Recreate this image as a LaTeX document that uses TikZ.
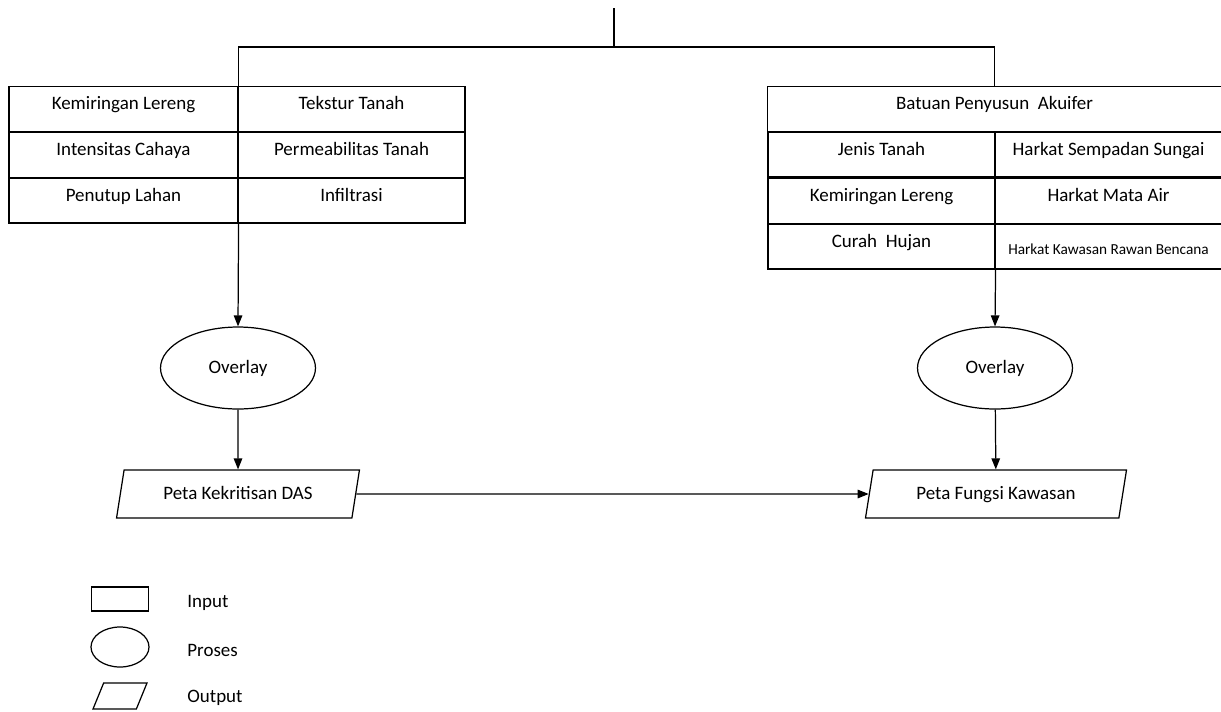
\documentclass[tikz,border=0pt]{standalone}
\usepackage{fontspec}
\setmainfont{Carlito}
\usetikzlibrary{positioning, arrows.meta, shapes.geometric}

\begin{document}
\begin{tikzpicture}[
  x=0.02cm, y=-0.02cm,
  line width=0.7pt,
  every node/.style={font=\fontsize{10.8}{12}\selectfont, inner sep=1pt},
  inbox/.style={draw, rectangle, minimum height=0.9cm, text height=1.5ex, text depth=1.3ex},
  procnode/.style={draw, ellipse, minimum width=3.1cm, minimum height=1.64cm},
  outnode/.style={draw, trapezium, trapezium left angle=76, trapezium right angle=104,
    trapezium stretches=true, minimum width=4.9cm, minimum height=0.96cm,
    text height=1.6ex, text depth=0.4ex},
  arr/.style={->, >={Triangle[length=2.2mm, width=1.7mm]}}
]
\useasboundingbox (0,0) rectangle (1221,711);

% Left inputs
\node[inbox, minimum width=4.58cm] (kl1) at (123.5,109) {Kemiringan Lereng};
\node[inbox, minimum width=4.54cm] (tt)  at (351.5,109) {Tekstur Tanah};
\node[inbox, minimum width=4.58cm] (ic)  at (123.5,155) {Intensitas Cahaya};
\node[inbox, minimum width=4.54cm] (pt)  at (351.5,155) {Permeabilitas Tanah};
\node[inbox, minimum width=4.58cm] (pl)  at (123.5,200.5) {Penutup Lahan};
\node[inbox, minimum width=4.54cm] (inf) at (351.5,200.5) {Infiltrasi};

% Right inputs
\node[inbox, minimum width=9.08cm] (bpa) at (994.5,109) {Batuan Penyusun\ \ Akuifer};
\node[inbox, minimum width=4.54cm] (jt)  at (881.5,154.5) {Jenis Tanah};
\node[inbox, minimum width=4.54cm] (hss) at (1108.5,154.5) {Harkat Sempadan Sungai};
\node[inbox, minimum width=4.54cm] (kl2) at (881.5,201) {Kemiringan Lereng};
\node[inbox, minimum width=4.54cm] (hma) at (1108.5,201) {Harkat Mata Air};
\node[inbox, minimum width=4.54cm] (ch)  at (881.5,246.5) {Curah\ \ Hujan};
\node[inbox, minimum width=4.54cm, font=\fontsize{8.7}{10}\selectfont,
  text height=2.2ex, text depth=0.3ex] (hkr) at (1108.5,246.5) {Harkat Kawasan Rawan Bencana};

% Top connector
\coordinate (top) at (614,8);
\coordinate (hub) at (614,47);
\draw (top) -- (hub);
\draw (kl1.north east) |- (hub) -| (bpa.north);

% Processes and outputs
\node[procnode] (ov1) at (238,368) {Overlay};
\node[procnode] (ov2) at (995,368) {Overlay};
\node[outnode] (out1) at (238,494) {Peta Kekritisan DAS};
\node[outnode, minimum width=5.25cm] (out2) at (996,494) {Peta Fungsi Kawasan};

\draw[arr] (pl.south east) -- (ov1.north);
\draw[arr] (ch.south east) -- (ov2.north);
\draw[arr] (ov1) -- (out1);
\draw[arr] (ov2) -- (out2);
\draw[arr] (out1.east) -- (out2.west);

% Legend
\node[draw, rectangle, minimum width=1.14cm, minimum height=0.48cm] (lgin) at (120,599) {};
\node[draw, ellipse, minimum width=1.16cm, minimum height=0.8cm] (lgpr) at (120,647) {};
\node[draw, trapezium, trapezium left angle=72, trapezium right angle=108,
  trapezium stretches=true, minimum width=1.08cm, minimum height=0.52cm] (lgout) at (120,696) {};
\node[anchor=west] (txin) at (185,603) {Input};
\node[anchor=west] (txpr) at (185,650) {Proses};
\node[anchor=west] (txout) at (185,698) {Output};

\end{tikzpicture}
\end{document}
